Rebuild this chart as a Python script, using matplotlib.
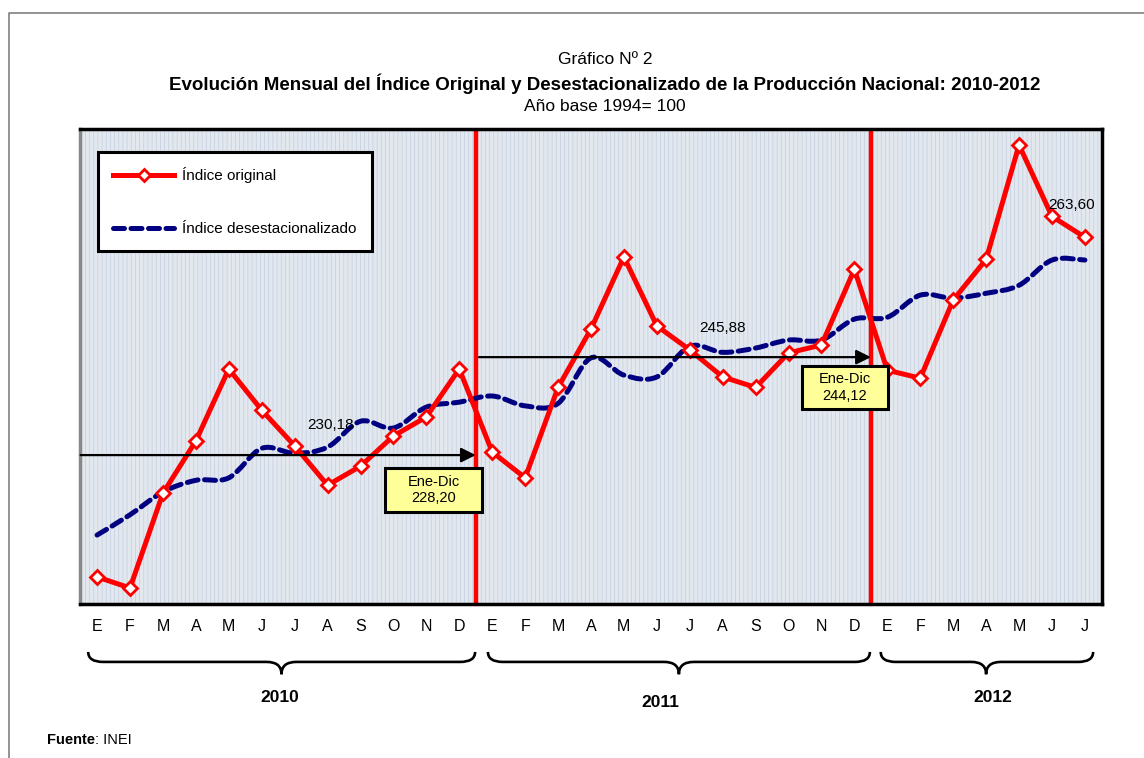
import numpy as np
import matplotlib.pyplot as plt
from matplotlib.path import Path
from matplotlib.patches import PathPatch, Rectangle
from matplotlib.lines import Line2D
import matplotlib.transforms as mtransforms

plt.rcParams['font.family'] = ['Liberation Sans Narrow', 'Liberation Sans', 'DejaVu Sans']
plt.rcParams['hatch.linewidth'] = 0.5

# datos (indice, base 1994 = 100)
meses = ['E', 'F', 'M', 'A', 'M', 'J', 'J', 'A', 'S', 'O', 'N', 'D'] * 2 + ['E', 'F', 'M', 'A', 'M', 'J', 'J']
anios = ['2010', '2011', '2012']
original = [208.4, 206.6, 222.0, 230.5, 242.2, 235.5, 229.7, 223.3, 226.4, 231.3, 234.4, 242.2,
            228.7, 224.5, 239.2, 248.7, 260.4, 249.2, 245.3, 240.9, 239.2, 244.8, 246.1, 258.4,
            242.0, 240.7, 253.4, 260.0, 278.6, 267.0, 263.6]
desest = [215.2, 218.5, 222.2, 224.1, 224.5, 229.3, 228.5, 229.5, 233.7, 232.6, 236.0, 236.8,
          237.8, 236.2, 236.6, 244.0, 241.2, 240.9, 245.9, 244.9, 245.6, 246.9, 246.9, 250.3,
          250.6, 254.2, 253.7, 254.5, 255.8, 259.9, 259.9]
promedio = [228.20, 244.12]
promedio_txt = ['228,20', '244,12']
etiquetas = [(7.1, 233.1, '230,18'), (19.0, 248.8, '245,88'), (29.6, 268.8, '263,60')]

x = np.arange(len(meses))
rojo = '#ff0000'
azul = '#000080'

fig = plt.figure(figsize=(11.44, 7.58), dpi=100)
ax = fig.add_axes([0.0699, 0.2032, 0.8934, 0.6266])

# fondo tramado
ax.add_patch(Rectangle((0, 0), 1, 1, transform=ax.transAxes, facecolor='#e3e8ef',
                       edgecolor='#c2cee0', hatch='||||', lw=0, zorder=0))

# indice desestacionalizado, suavizado (curvas bezier entre los puntos)
pts = np.column_stack([x, desest]).astype(float)
verts = [pts[0]]
codes = [Path.MOVETO]
for i in range(len(pts) - 1):
    p0 = pts[max(i - 1, 0)]
    p1 = pts[i]
    p2 = pts[i + 1]
    p3 = pts[min(i + 2, len(pts) - 1)]
    verts += [p1 + (p2 - p0) / 6, p2 - (p3 - p1) / 6, p2]
    codes += [Path.CURVE4] * 3
suave = PathPatch(Path(verts, codes), fill=False, edgecolor=azul, lw=3.6,
                  linestyle=(0, (2.2, 1.3)), capstyle='round', zorder=3)
ax.add_patch(suave)

ax.plot(x, original, color=rojo, lw=3.6, marker='D', ms=7, mfc='white', mec=rojo,
        mew=2, zorder=4)

# separadores de anio
for xs in [11.5, 23.5]:
    ax.axvline(xs, color=rojo, lw=3.2, zorder=2)

# flechas del promedio anual
ax.annotate('', xy=(11.5, promedio[0]), xytext=(-0.5, promedio[0]),
            arrowprops=dict(arrowstyle='-|>', color='black', lw=1.6, mutation_scale=22,
                            shrinkA=0, shrinkB=0), zorder=5)
ax.annotate('', xy=(23.5, promedio[1]), xytext=(11.6, promedio[1]),
            arrowprops=dict(arrowstyle='-|>', color='black', lw=1.6, mutation_scale=22,
                            shrinkA=0, shrinkB=0), zorder=5)

cajas = [(8.75, 218.94, 2.94, 7.15), (21.41, 235.67, 2.61, 6.99)]
for (bx, by, bw, bh), t in zip(cajas, promedio_txt):
    ax.add_patch(Rectangle((bx, by), bw, bh, facecolor='#ffff99', edgecolor='black',
                           lw=2.2, zorder=6))
    ax.text(bx + bw / 2, by + bh / 2, 'Ene-Dic\n' + t, ha='center', va='center',
            fontsize=10.5, linespacing=1.25, zorder=7)

for ex, ey, t in etiquetas:
    ax.text(ex, ey, t, ha='center', va='center', fontsize=11, zorder=7)

ax.set_xlim(-0.52, 30.52)
ax.set_ylim(204.0, 281.2)
ax.set_xticks(x)
ax.set_xticklabels(meses, fontsize=11.5)
ax.tick_params(axis='x', length=0, pad=11)
ax.set_yticks([])
for s in ['top', 'right', 'bottom']:
    ax.spines[s].set_linewidth(2.5)
    ax.spines[s].set_color('black')
ax.spines['left'].set_linewidth(2.5)
ax.spines['left'].set_color('#888888')

# leyenda
h1 = Line2D([], [], color=rojo, lw=3.6, marker='D', ms=6, mfc='white', mec=rojo, mew=2)
h2 = Line2D([], [], color=azul, lw=3.6, linestyle=(0, (2.2, 1.3)), dash_capstyle='round')
leg = ax.legend([h1, h2], ['Índice original', 'Índice desestacionalizado'],
                loc='upper left', bbox_to_anchor=(0.0176, 0.952), borderaxespad=0,
                fontsize=11, handlelength=4.0, handletextpad=0.5, labelspacing=2.55,
                borderpad=1.0, fancybox=False, framealpha=1, edgecolor='black')
leg.get_frame().set_linewidth(2.2)
leg.set_zorder(8)

# llaves de cada anio
trans = mtransforms.blended_transform_factory(ax.transData, ax.transAxes)
llaves = [(-0.27, 11.48, 5.6), (11.87, 23.47, 17.67), (23.8, 30.25, 27.0)]
pos_anio = [(5.55, -0.196), (17.1, -0.208), (27.2, -0.196)]
yt, yf, yp = -0.101, -0.122, -0.148
r = 0.45
for (a, b, m), anio, (tx, ty) in zip(llaves, anios, pos_anio):
    v = [(a, yt), (a, yf), (a + r, yf), (m - r, yf), (m, yf), (m, yp),
         (m, yf), (m + r, yf), (b - r, yf), (b, yf), (b, yt)]
    c = [Path.MOVETO, Path.CURVE3, Path.CURVE3, Path.LINETO, Path.CURVE3, Path.CURVE3,
         Path.CURVE3, Path.CURVE3, Path.LINETO, Path.CURVE3, Path.CURVE3]
    ax.add_patch(PathPatch(Path(v, c), fill=False, edgecolor='black', lw=1.9,
                           transform=trans, clip_on=False))
    ax.text(tx, ty, anio, transform=trans, ha='center', va='center', fontsize=12.5,
            fontweight='bold')

# titulos
fig.text(0.529, 0.921, 'Gráfico Nº 2', ha='center', va='center', fontsize=12.5)
fig.text(0.529, 0.890, 'Evolución Mensual del Índice Original y Desestacionalizado de la Producción Nacional: 2010-2012',
         ha='center', va='center', fontsize=13.5, fontweight='bold')
fig.text(0.529, 0.860, 'Año base 1994= 100', ha='center', va='center', fontsize=12.5)

# fuente: "Fuente" en negrita y el resto pegado a su derecha
fuente = fig.text(0.041, 0.024, 'Fuente', ha='left', va='center', fontsize=10.5, fontweight='bold')
ax.annotate(': INEI', xy=(1, 0.5), xycoords=fuente, ha='left', va='center', fontsize=10.5,
            annotation_clip=False)

# marco exterior
fig.add_artist(Line2D([0.0079, 0.0079, 1.0], [0.0, 0.983, 0.983], color='#808080', lw=1.2,
                      transform=fig.transFigure))

fig.savefig('out.png', dpi=100)
